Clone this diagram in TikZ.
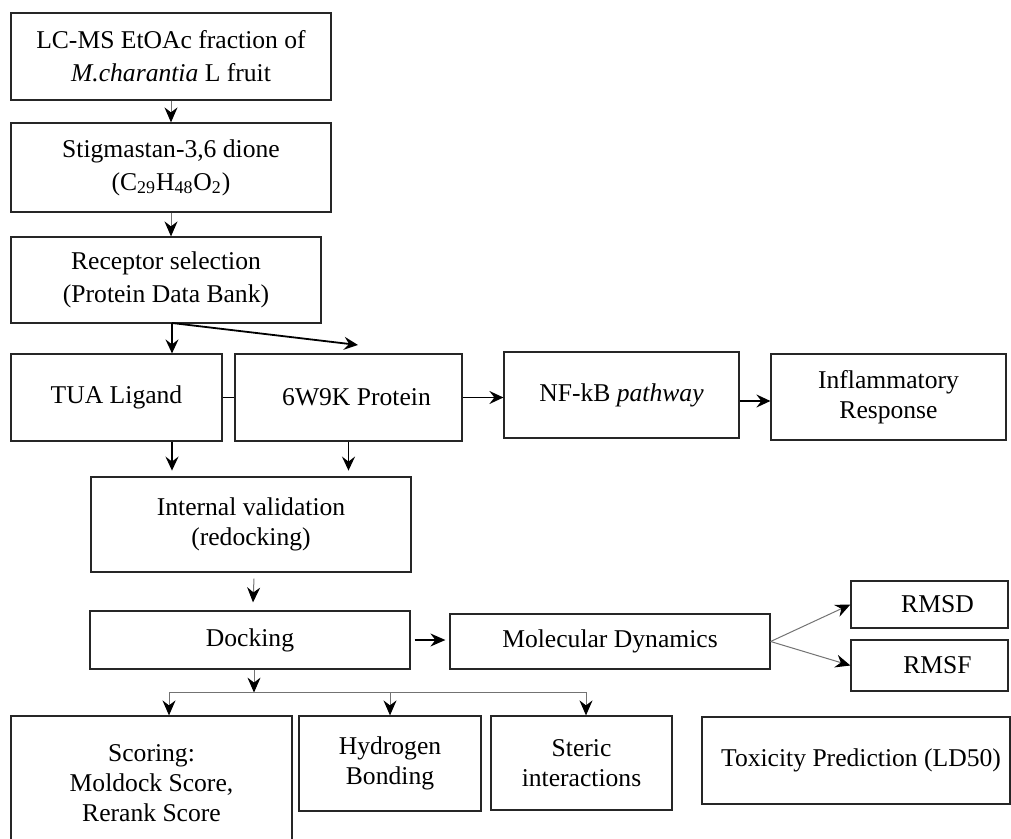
\documentclass[tikz,border=0pt]{standalone}
\usepackage{fontspec}
\setmainfont{Liberation Serif}
\usepackage{tikz}
\usetikzlibrary{arrows.meta,positioning,calc}
\tikzstyle{block} = [rectangle, draw=black!85, line width=0.6pt, align=center, inner sep=2pt, font=\fontsize{12.8}{15}\selectfont]
\tikzstyle{topblock} = [block, font=\fontsize{12.8}{16.5}\selectfont]
\tikzstyle{arrow} = [line width=0.9pt, -{Stealth[length=7pt,width=6.5pt,inset=2.5pt]}]
\tikzstyle{thinarrow} = [draw=black!55, line width=0.5pt, -{Stealth[length=7.5pt,width=6.5pt,inset=2.5pt,color=black]}]
\tikzstyle{thinline} = [draw=black!55, line width=0.5pt]

\begin{document}
\begin{tikzpicture}[x=0.5pt,y=-0.5pt]
	\useasboundingbox (0,0) rectangle (1011,839);
	% main column
	\node (start) [topblock, minimum width=160pt, minimum height=43.5pt] at (171,56.5) {LC-MS EtOAc fraction of\\\textit{M.charantia} L fruit};
	\node (stig) [topblock, minimum width=160pt, minimum height=44.5pt] at (171,167.5) {Stigmastan-3,6 dione\\(C\textsubscript{29}H\textsubscript{48}O\textsubscript{2})};
	\node (recep) [topblock, minimum width=155pt, minimum height=43pt] at (166,280) {Receptor selection\\(Protein Data Bank)};
	\node (tua) [block, minimum width=105.5pt, minimum height=43.5pt] at (116.5,397.5) {TUA Ligand};
	\node (prot) [block, minimum width=113.5pt, minimum height=43.5pt] at (348.5,397.5) {\hspace*{8pt}6W9K Protein};
	\node (nfkb) [block, minimum width=117.5pt, minimum height=43pt] at (621.5,395) {NF-kB \textit{pathway}};
	\node (infl) [block, minimum width=117.5pt, minimum height=43pt] at (888.5,397) {Inflammatory\\Response};
	\node (valid) [block, minimum width=160pt, minimum height=47.5pt] at (251,524.5) {Internal validation\\(redocking)};
	\node (dock) [block, minimum width=160pt, minimum height=29pt] at (250,640) {Docking};
	\node (md) [block, minimum width=160pt, minimum height=27.5pt] at (610,641.5) {Molecular Dynamics};
	\node (rmsd) [block, minimum width=78.5pt, minimum height=23.5pt] at (929.5,604.5) {\hspace*{8pt}RMSD};
	\node (rmsf) [block, minimum width=78.5pt, minimum height=25.5pt] at (929.5,665.5) {\hspace*{8pt}RMSF};
	% results row
	\node (score) [block, minimum width=140.5pt, minimum height=67pt] at (151.5,783) {Scoring:\\Moldock Score,\\Rerank Score};
	\node (hbond) [block, minimum width=91pt, minimum height=47.5pt] at (390,763.5) {Hydrogen\\Bonding};
	\node (steric) [block, minimum width=90.5pt, minimum height=47pt] at (581.5,763) {Steric\\interactions};
	\node (tox) [block, minimum width=154pt, minimum height=43.5pt] at (856,760.5) {\hspace*{5pt}Toxicity Prediction (LD50)};

	\coordinate (split) at (172,323);
	\coordinate (protin) at (358,345);
	\coordinate (busL) at (169,692);
	\coordinate (busR) at (586,692);

	\draw [thinarrow] (start) -- (stig);
	\draw [thinarrow] (stig.south) -- (stig.south |- recep.north);
	\draw [arrow] (split) -- (split |- tua.north);
	\draw [arrow] (split) -- (protin);
	\draw [line width=0.6pt] (tua.east) -- (prot.west);
	\draw [arrow] (prot.east) -- (prot.east -| nfkb.west);
	\draw [arrow] ($(nfkb.east)+(0,6)$) -- ($(nfkb.east -| infl.west)+(0,6)$);
	\draw [arrow] (tua.south -| split) -- ++(0,29);
	\draw [arrow] (prot.south) -- ++(0,29);
	\draw [thinarrow] ($(valid.south)+(3,6)$) -- ($(dock.north)+(3,-8)$);
	\draw [thinarrow] ($(dock.south)+(4,0)$) -- ($(dock.south)+(4,23)$);
	\draw [thinline] (busL) -- (busR);
	\draw [thinarrow] (busL) -- (busL |- score.north);
	\draw [thinarrow] (hbond.north |- busL) -- (hbond.north);
	\draw [thinarrow] (busR) -- (busR |- steric.north);
	\draw [thinarrow, draw=black, line width=0.7pt, shorten <=2pt, shorten >=2pt] (dock.east) -- (dock.east -| md.west);
	\draw [thinarrow] (md.east) -- (rmsd.west);
	\draw [thinarrow] (md.east) -- (rmsf.west);
\end{tikzpicture}
\end{document}
